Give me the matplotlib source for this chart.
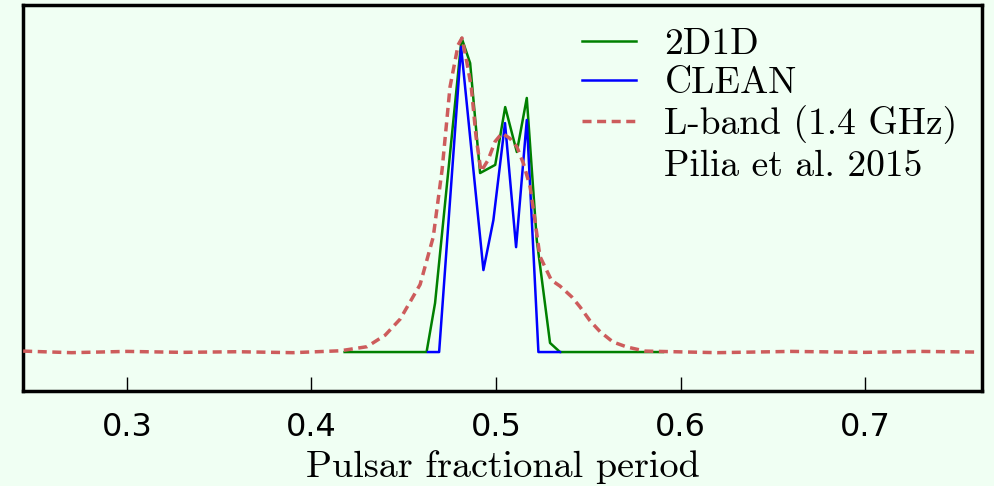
import matplotlib
matplotlib.use("Agg")
from matplotlib import pyplot as plt
from matplotlib.lines import Line2D

# 2D1D 再構成プロファイル
x_2d1d = [0.418, 0.4624, 0.4670, 0.4814, 0.4860, 0.4914, 0.4996, 0.5050,
          0.5113, 0.5167, 0.5221, 0.5293, 0.5347, 0.5905]
y_2d1d = [0.0, 0.0, 0.156, 1.0, 0.92, 0.570, 0.596, 0.780,
          0.637, 0.809, 0.357, 0.029, 0.0, 0.0]

# CLEAN プロファイル
x_clean = [0.4632, 0.4692, 0.4811, 0.4932, 0.4986, 0.5049, 0.5109, 0.5167,
           0.5230, 0.5347]
y_clean = [0.0, 0.0, 0.972, 0.261, 0.420, 0.729, 0.334, 0.739, 0.0, 0.0]

# L-band (1.4 GHz) プロファイル
x_lband = [0.2438, 0.270, 0.300, 0.330, 0.360, 0.390, 0.4156, 0.4301, 0.440,
           0.4481, 0.4589, 0.4660, 0.4708, 0.4751, 0.4795, 0.4816, 0.4840,
           0.4866, 0.4892, 0.4919, 0.4957, 0.4995, 0.5033, 0.5076, 0.5113,
           0.5149, 0.5185, 0.5211, 0.5238, 0.5300, 0.5347, 0.5410, 0.5455,
           0.5509, 0.5564, 0.5634, 0.5710, 0.5808, 0.620, 0.660, 0.700,
           0.730, 0.7596]
y_lband = [0.003, -0.002, 0.002, -0.001, 0.001, -0.002, 0.004, 0.017, 0.054,
           0.105, 0.215, 0.366, 0.580, 0.844, 0.978, 1.0, 0.93,
           0.845, 0.686, 0.575, 0.611, 0.670, 0.697, 0.680, 0.654,
           0.600, 0.526, 0.420, 0.305, 0.229, 0.210, 0.176, 0.144,
           0.100, 0.065, 0.032, 0.016, 0.003, -0.002, 0.002, -0.001,
           0.002, 0.0]

bg = '#f0fff3'
fig = plt.figure(figsize=(9.94, 4.86), dpi=100, facecolor=bg)
ax = fig.add_axes([0.0231, 0.1955, 0.9649, 0.7942], facecolor=bg)

ax.plot(x_2d1d, y_2d1d, color=(0, 0.5, 0), lw=1.8, label='2D1D', zorder=2)
ax.plot(x_clean, y_clean, color=(0, 0, 1), lw=1.8, label='CLEAN', zorder=3)
ax.plot(x_lband, y_lband, color='#cd5c5c', lw=2.5, ls=(0, (2.6, 1.6)),
        label='L-band (1.4 GHz)', zorder=4)

ax.set_xlim(0.2437, 0.7634)
ax.set_ylim(-0.124, 1.105)
ax.set_xticks([0.3, 0.4, 0.5, 0.6, 0.7])
ax.set_yticks([])
ax.tick_params(axis='x', direction='in', length=10, width=1, labelsize=23,
               pad=15, top=False)
for s in ax.spines.values():
    s.set_linewidth(2.5)

ax.set_xlabel('Pulsar fractional period', family='cmr10', fontsize=27.5,
              labelpad=5)

handles, labels = ax.get_legend_handles_labels()
handles.append(Line2D([], [], color='none'))
labels.append('Pilia et al. 2015')
leg = ax.legend(handles, labels, loc='upper right', frameon=False,
                prop={'family': 'cmr10', 'size': 27}, handlelength=1.45,
                handletextpad=0.75, labelspacing=0.15,
                borderaxespad=0.2, bbox_to_anchor=(0.998, 1.0))

fig.savefig('out.png', dpi=100, facecolor=bg)
